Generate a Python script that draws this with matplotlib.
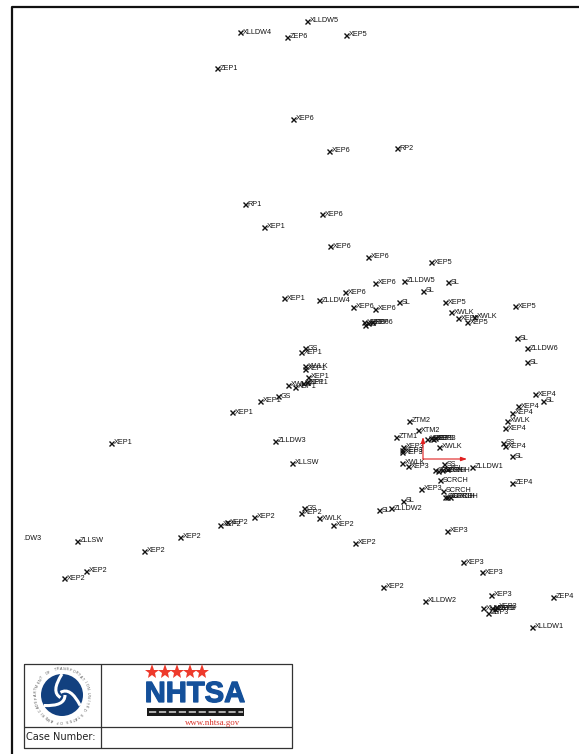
import numpy as np
import matplotlib
matplotlib.use("Agg")
import matplotlib.pyplot as plt
import matplotlib.patheffects as pe
from matplotlib.patches import Circle, PathPatch
from matplotlib.path import Path

plt.rcParams['font.family'] = ['Liberation Sans', 'DejaVu Sans']

# positions, in its pixel coordinates
point_labels = [
    "XLLDW5", "XLLDW4", "ZEP6", "XEP5", "ZEP1", "XEP6", "XEP6", "RP2", "RP1", "XEP6",
    "XEP1", "XEP6", "XEP6", "XEP5", "XEP6", "ZLLDW5", "SL", "SL", "XEP6", "XEP1",
    "ZLLDW4", "XEP6", "XEP6", "SL", "XEP5", "XEP5", "XWLK", "XEP5", "XWLK", "XEP5",
    "XEP6", "SS", "XEP6", "XEP6", "SL", "ZLLDW6", "SL", "GS", "XEP1", "XWLK",
    "XEP1", "XEP1", "XEP1", "XEP1", "XWLK", "XEP1", "GS", "XEP1", "XEP1", "XEP4",
    "SL", "XEP4", "XEP4", "XWLK", "XEP4", "ZTM2", "XTM2", "ZTM1", "XEP1", "ZLLDW3",
    "XEP3", "XEP3", "XEP3", "XEP3", "XWLK", "XEP3", "XEP3", "XEP3", "SS", "XEP4",
    "SL", "XWLK", "XEP3", "XLLSW", "ZLLDW1", "SS", "XSL", "SCRCH", "SCRCH", "SCRCH",
    "SCRCH", "ZEP4", "XEP3", "SCRCH", "SCRCH", "SCRCH", "SCRCH", "SL", "ZLLDW2", "SL",
    "GS", "XEP2", "XWLK", "XEP2", "XEP2", "XEP2", "XEP2", "XEP3", "XEP2", "XEP2",
    "ZLLSW", "XEP2", "XEP3", "XEP2", "XEP3", "XEP2", "XEP2", "XEP3", "XLLDW2", "ZEP4",
    "XLLDW3", "XEP3", "XEP3", "ZEP3", "XEP3", "XLLDW1",
]
point_x = [
    307, 240, 287, 346, 217, 293, 329, 397, 245, 322,
    264, 330, 368, 431, 375, 404, 448, 423, 345, 284,
    319, 353, 375, 399, 445, 515, 451, 458, 474, 467,
    364, 365, 372, 368, 517, 527, 527, 305, 301, 305,
    305, 308, 307, 303, 288, 295, 278, 260, 232, 535,
    543, 518, 512, 507, 505, 409, 418, 396, 111, 275,
    427, 431, 435, 433, 439, 403, 402, 402, 503, 505,
    512, 402, 408, 292, 472, 444, 447, 435, 438, 442,
    440, 512, 421, 443, 445, 447, 450, 403, 391, 379,
    304, 301, 319, 333, 254, 227, 220, 447, 180, 355,
    77, 144, 463, 86, 482, 64, 383, 491, 425, 553,
    483, 492, 496, 488, 495, 532,
]
point_y = [
    21, 32, 37, 35, 68, 119, 151, 148, 204, 214,
    227, 246, 257, 262, 283, 281, 282, 291, 292, 298,
    300, 307, 309, 302, 302, 306, 312, 318, 317, 322,
    322, 325, 322, 323, 338, 348, 362, 348, 352, 366,
    369, 377, 382, 383, 385, 387, 396, 401, 412, 394,
    401, 406, 413, 421, 428, 421, 430, 437, 443, 441,
    439, 438, 438, 439, 447, 447, 450, 452, 443, 446,
    456, 463, 466, 463, 467, 464, 469, 470, 471, 470,
    480, 483, 489, 491, 497, 497, 497, 501, 508, 510,
    508, 513, 518, 525, 517, 522, 525, 531, 537, 543,
    541, 551, 562, 571, 572, 578, 587, 595, 601, 597,
    608, 608, 607, 613, 609, 627,
]

clipped_label = ".DW3"
star_x = [152, 165, 177, 190, 202]
case_label = "Case Number:"
seal_text = "DEPARTMENT OF TRANSPORTATION UNITED STATES OF AMERICA"

fig = plt.figure(figsize=(5.79, 7.54), dpi=100)
ax = fig.add_axes([0, 0, 1, 1])
ax.set_xlim(0, 579)
ax.set_ylim(754, 0)
ax.axis('off')

# page frame
ax.plot([12, 12, 579], [754, 6.5, 6.5], color='#111111', lw=1.6, solid_capstyle='butt')

ax.plot(point_x, point_y, 'x', color='#111111', ms=3.6, mew=1.0)
for x, y, label in zip(point_x, point_y, point_labels):
    ax.text(x + 2.5, y, label, fontsize=5.2, color='#111111', va='center', ha='left')
ax.text(23, 539, clipped_label, fontsize=5.2, color='#111111', va='center', ha='left')

# red axes at the origin
ax.annotate("", xy=(467, 459), xytext=(423, 459),
            arrowprops=dict(arrowstyle='-|>,head_length=0.35,head_width=0.12', color='#e02020', lw=0.8, shrinkA=0, shrinkB=0))
ax.annotate("", xy=(423, 437), xytext=(423, 459),
            arrowprops=dict(arrowstyle='-|>,head_length=0.35,head_width=0.12', color='#e02020', lw=0.8, shrinkA=0, shrinkB=0))

# title block
for xs, ys in [([23.5, 291.5, 291.5, 23.5, 23.5], [664, 664, 748, 748, 664]),
               ([23.5, 291.5], [727, 727]),
               ([100.5, 100.5], [664, 748])]:
    ax.plot(xs, ys, color='#333333', lw=0.9, solid_capstyle='butt')
ax.text(25.5, 737.5, case_label, fontsize=7, family=['DejaVu Sans'], color='#222222', va='center')

# DOT seal
cx, cy = 62, 695
ax.add_patch(Circle((cx, cy), 21, fc='#12407f', ec='none'))
for a in [90, 210, 330]:
    t = np.radians(a)
    t2 = np.radians(a + 75)
    t3 = np.radians(a + 150)
    verts = [(cx + 21 * np.cos(t), cy - 21 * np.sin(t)),
             (cx + 12 * np.cos(t2), cy - 12 * np.sin(t2)),
             (cx + 3 * np.cos(t3), cy - 3 * np.sin(t3))]
    path = Path(verts, [Path.MOVETO, Path.CURVE3, Path.CURVE3])
    ax.add_patch(PathPatch(path, fc='none', ec='white', lw=2.2))
angles = np.linspace(200, -160, len(seal_text) + 1)[:-1]
for ch, a in zip(seal_text, angles):
    t = np.radians(a)
    ax.text(cx + 26 * np.cos(t), cy - 26 * np.sin(t), ch, fontsize=2.6, color='#555555',
            ha='center', va='center', rotation=a - 90)

# NHTSA logo
ax.plot(star_x, [672] * len(star_x), '*', color='#ee3a2c', ms=11, mew=0)
ax.text(195, 694, "NHTSA", fontsize=21, fontweight='bold', color='#14509a', ha='center', va='center',
        path_effects=[pe.withStroke(linewidth=0.9, foreground='#14509a')])
ax.fill_between([147, 244], 708, 716, color='#1a1a1a', lw=0)
ax.plot([149, 243], [712, 712], color='#bbbbbb', lw=1.3, ls=(0, (4, 1.5)))
ax.text(213, 723, "www.nhtsa.gov", fontsize=6.4, family=['Liberation Serif'], color='#d9342b', ha='center', va='center')

fig.savefig("out.png", dpi=100)
